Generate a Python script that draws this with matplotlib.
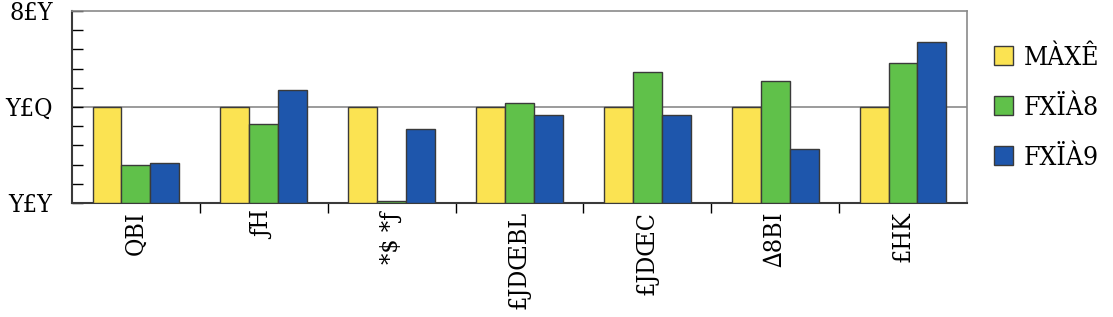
import numpy as np
import matplotlib.pyplot as plt
from matplotlib.ticker import MultipleLocator

# data
categories = ["QBI", "ƒH", "*$ *ƒ", "£JDŒBL", "£JDŒC", "∆8BI", "£HK"]
series_names = ["MÀXÊ", "FXÏÀ8", "FXÏÀ9"]
yellow_vals = [0.50, 0.50, 0.50, 0.50, 0.50, 0.50, 0.50]
green_vals = [0.20, 0.41, 0.01, 0.52, 0.68, 0.635, 0.73]
blue_vals = [0.21, 0.59, 0.385, 0.46, 0.46, 0.28, 0.84]
ytick_vals = [0.0, 0.5, 1.0]
ytick_labels = ["Y£Y", "Y£Q", "8£Y"]

colors = ["#FBE352", "#60C14A", "#1E56AC"]
plt.rcParams["font.family"] = ["DejaVu Serif"]
plt.rcParams["font.stretch"] = "condensed"

fig = plt.figure(figsize=(11.13, 3.17), dpi=100)
ax = fig.add_axes([0.0647, 0.3596, 0.8041, 0.6057])

x = np.arange(len(categories)) + 0.5
w = 0.226
for i, vals in enumerate([yellow_vals, green_vals, blue_vals]):
    ax.bar(x + (i - 1) * w, vals, w, color=colors[i], edgecolor="#3a3a3a",
           linewidth=1.0, label=series_names[i], zorder=3)

ax.axhline(0.5, color="#8a8a8a", linewidth=1.2, zorder=1)
ax.set_xlim(0, len(categories))
ax.set_ylim(0, 1.0)

ax.set_xticks(np.arange(1, len(categories)))
ax.set_xticklabels([])
ax.set_xticks(x, minor=True)
ax.set_xticklabels(categories, minor=True, rotation=90, fontsize=18, va="top")
ax.tick_params(axis="x", which="major", direction="out", length=7, width=1)
ax.tick_params(axis="x", which="minor", length=0, pad=6)

ax.set_yticks(ytick_vals)
ax.set_yticklabels(ytick_labels, fontsize=18)
ax.yaxis.set_minor_locator(MultipleLocator(0.1))
ax.tick_params(axis="y", which="both", direction="in", length=8, width=1, pad=14)

for side in ["left", "bottom"]:
    ax.spines[side].set_color("#3a3a3a")
    ax.spines[side].set_linewidth(1.5)
for side in ["top", "right"]:
    ax.spines[side].set_color("#8a8a8a")
    ax.spines[side].set_linewidth(1.2)

leg = ax.legend(loc="upper left", bbox_to_anchor=(1.018, 0.88), frameon=False,
                prop={"size": 19}, handlelength=0.75, handleheight=0.75,
                handletextpad=0.4, labelspacing=0.95, borderaxespad=0)

fig.savefig("out.png", dpi=100)
